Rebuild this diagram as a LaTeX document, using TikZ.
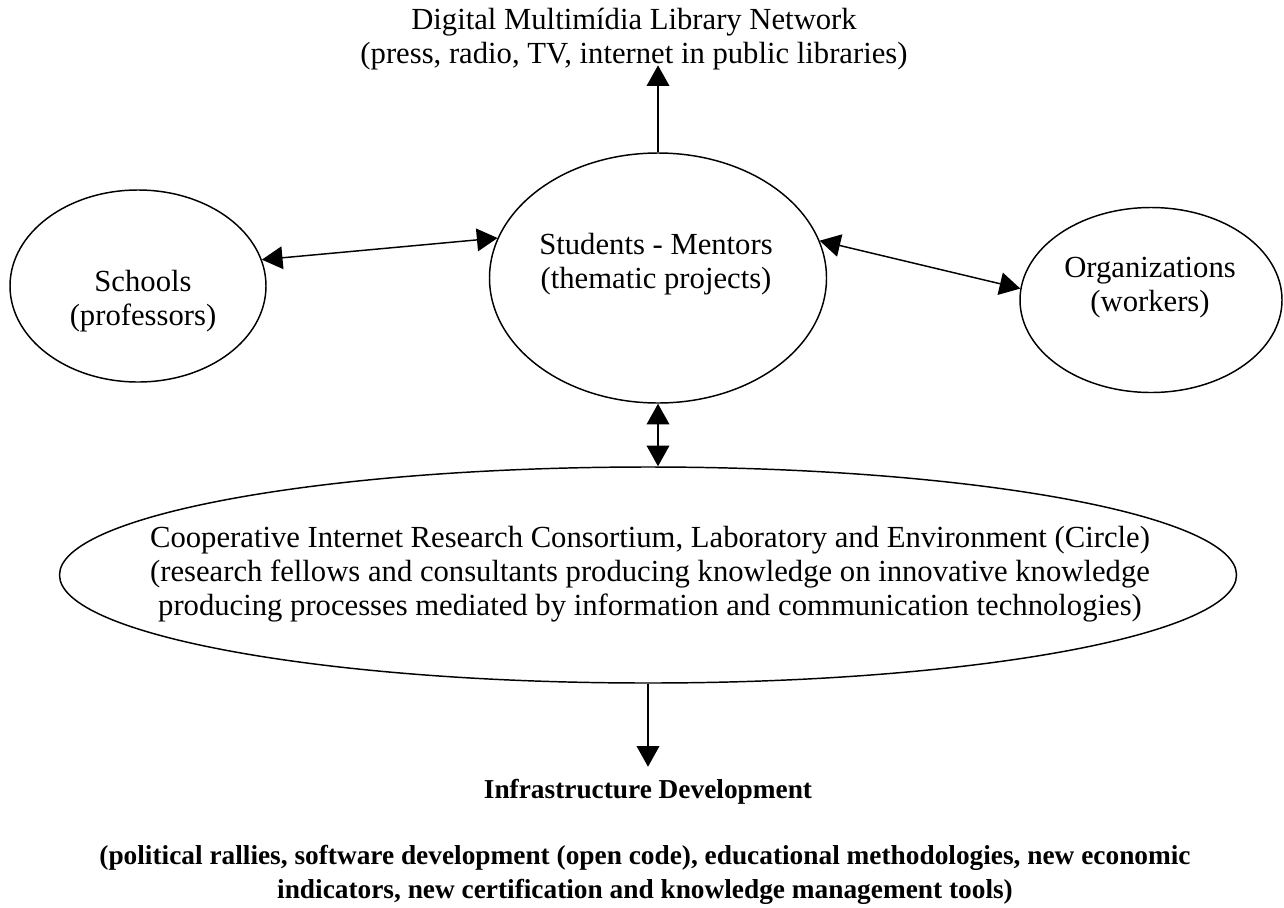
\documentclass[tikz,border=0pt]{standalone}
\usepackage{fontspec}
\setmainfont{Liberation Serif}
\usepackage{tikz}
\usetikzlibrary{arrows.meta}
\usetikzlibrary{shapes.geometric,
                positioning}

\begin{document}
\begin{tikzpicture}[
        x=0.75pt, y=-0.75pt,
        every node/.style={align=center, font=\fontsize{23}{25.5}\selectfont},
        bubble/.style={draw, ellipse, inner sep=0pt, line width=1.1pt},
        boldtext/.style={font=\fontsize{20.5}{25}\selectfont\bfseries},
        every path/.style={line width=1.1pt},
        oneway/.style={-{Triangle[length=15.5pt, width=17pt]}},
        twoway/.style={{Triangle[length=15.5pt, width=17pt]}-{Triangle[length=15.5pt, width=17pt]}}
        ]
        \useasboundingbox (0,0) rectangle (1284,907);

        % Ellipses
        \node[bubble, minimum width=192pt, minimum height=144pt] (schools) at (138,286) {};
        \node[bubble, minimum width=252.75pt, minimum height=187.5pt] (students) at (658,278) {};
        \node[bubble, minimum width=196.5pt, minimum height=138.75pt] (orgs) at (1151,300) {};
        \node[bubble, minimum width=882.75pt, minimum height=162pt] (consortium) at (648,575) {};

        % Texts
        \node (schoolstext) at (143,301) {Schools\\(professors)};
        \node (studentstext) at (656,264) {Students - Mentors\\(thematic projects)};
        \node (orgstext) at (1150,288) {Organizations\\(workers)};
        \node (consortiumtext) at (650,574) {Cooperative Internet Research Consortium, Laboratory and Environment (Circle)\\(research fellows and consultants producing knowledge on innovative knowledge\\producing processes mediated by information and communication technologies)};
        \node[inner sep=0pt] (library) at (634,39) {Digital Multimídia Library Network\\(press, radio, TV, internet in public libraries)};
        \node[boldtext, inner sep=9pt] (infra) at (648,792) {Infrastructure Development};
        \node[boldtext] (tools) at (645,875) {(political rallies, software development (open code), educational methodologies, new economic\\indicators, new certification and knowledge management tools)};

        % Arrows
        \draw[twoway] (schools.12) -- (students.166);
        \draw[twoway] (students.13) -- (orgs.175);
        \draw[oneway, shorten >=-4pt] (students.north) -- (students.north |- library.south);
        \draw[twoway] (students.south) -- (students.south |- consortium.north);
        \draw[oneway] (consortium.south) -- (consortium.south |- infra.north);

\end{tikzpicture}
\end{document}
